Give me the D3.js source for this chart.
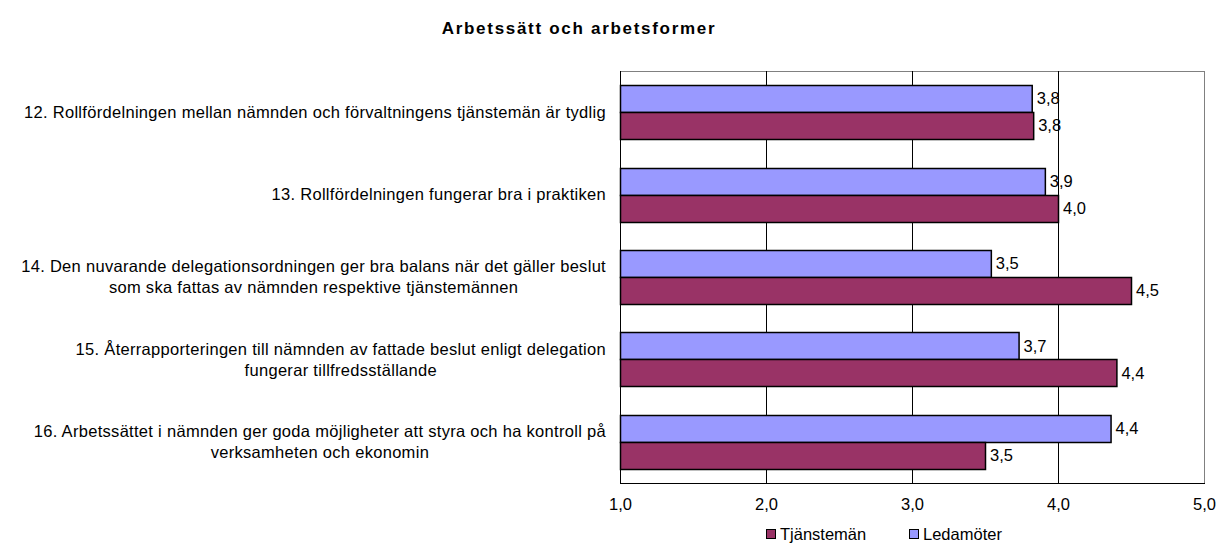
<!DOCTYPE html>
<html>
  <head>
    <meta charset="utf-8">
    <style>
    body {
      margin: 0px;
      background: white;
    }
    text {
      font-family: "Liberation Sans", Arial, sans-serif;
    }
    </style>
  </head>
  <body>
    <div id="elm"></div>

    <script src="https://cdn.jsdelivr.net/npm/d3@7"></script>
    <script>
    'use strict';

    var title = 'Arbetssätt och arbetsformer';

    // each category label may span several lines
    var categories = [
      ['12. Rollfördelningen mellan nämnden och förvaltningens tjänstemän är tydlig'],
      ['13. Rollfördelningen fungerar bra i praktiken'],
      ['14. Den nuvarande delegationsordningen ger bra balans när det gäller beslut',
       'som ska fattas av nämnden respektive tjänstemännen'],
      ['15. Återrapporteringen till nämnden av fattade beslut enligt delegation',
       'fungerar tillfredsställande'],
      ['16. Arbetssättet i nämnden ger goda möjligheter att styra och ha kontroll på',
       'verksamheten och ekonomin']
    ];

    var ledamoter   = [3.82, 3.91, 3.54, 3.73, 4.36];
    var tjansteman  = [3.83, 4.00, 4.50, 4.40, 3.50];

    var seriesNames = ['Ledamöter', 'Tjänstemän'];
    var seriesColors = ['#9999ff', '#993366'];
    var legendOrder = [1, 0];

    var xTicks = [1, 2, 3, 4, 5];

    var W = 1220, H = 544;
    var plot = { left: 620, right: 1204, top: 71, bottom: 483 };
    var fs = 16.5;

    var svg = d3.select('#elm').append('svg')
      .attr('width', W).attr('height', H);

    var x = d3.scaleLinear().domain([1, 5]).range([plot.left, plot.right]);
    var y = d3.scaleBand()
      .domain(d3.range(categories.length))
      .range([plot.top, plot.bottom])
      .paddingInner(0.345)
      .paddingOuter(0.1725);
    var ySub = d3.scaleBand().domain([0, 1]).range([0, y.bandwidth()]);

    var comma = function(v) { return d3.format('.1f')(v).replace('.', ','); };

    // title
    svg.append('text')
      .attr('x', 579).attr('y', 34)
      .attr('text-anchor', 'middle')
      .attr('font-size', 17).attr('font-weight', 'bold')
      .attr('letter-spacing', 1.7)
      .text(title);

    // plot frame (top/right grey)
    svg.append('rect')
      .attr('x', plot.left + 0.5).attr('y', plot.top + 0.5)
      .attr('width', plot.right - plot.left).attr('height', plot.bottom - plot.top)
      .attr('fill', 'none').attr('stroke', '#808080');

    // grid lines
    svg.append('g').selectAll('line')
      .data(xTicks.slice(1, -1))
      .join('line')
      .attr('x1', d => Math.round(x(d)) + 0.5).attr('x2', d => Math.round(x(d)) + 0.5)
      .attr('y1', plot.top).attr('y2', plot.bottom)
      .attr('stroke', '#000');

    // axes
    svg.append('line')
      .attr('x1', plot.left + 0.5).attr('x2', plot.left + 0.5)
      .attr('y1', plot.top).attr('y2', plot.bottom + 1)
      .attr('stroke', '#000');
    svg.append('line')
      .attr('x1', plot.left).attr('x2', plot.right + 1)
      .attr('y1', plot.bottom + 0.5).attr('y2', plot.bottom + 0.5)
      .attr('stroke', '#000');

    var xAxis = svg.append('g')
      .attr('transform', 'translate(0,' + plot.bottom + ')')
      .call(d3.axisBottom(x).tickValues(xTicks).tickFormat(comma).tickSize(0).tickPadding(15));
    xAxis.select('.domain').remove();
    xAxis.selectAll('text').attr('font-size', fs).attr('fill', '#000')
      .attr('font-family', '"Liberation Sans", Arial, sans-serif');

    // bars
    var series = [ledamoter, tjansteman];
    series.forEach(function(vals, si) {
      var g = svg.append('g');
      g.selectAll('rect')
        .data(vals)
        .join('rect')
        .attr('x', plot.left + 0.5)
        .attr('y', (d, i) => Math.round(y(i) + ySub(si)) + 0.5)
        .attr('width', d => x(d) - plot.left)
        .attr('height', Math.round(ySub.bandwidth()))
        .attr('fill', seriesColors[si])
        .attr('stroke', '#000').attr('stroke-width', 1.5);
      g.selectAll('text')
        .data(vals)
        .join('text')
        .attr('x', d => x(d) + 5)
        .attr('y', (d, i) => y(i) + ySub(si) + ySub.bandwidth() / 2)
        .attr('dy', '0.35em')
        .attr('font-size', fs)
        .text(comma);
    });

    // category labels: block right aligned, lines centered within block
    var labelRight = 606, lineH = 21;
    categories.forEach(function(lines, i) {
      var g = svg.append('g');
      var cy = y(i) + y.bandwidth() / 2;
      var texts = g.selectAll('text')
        .data(lines)
        .join('text')
        .attr('font-size', fs)
        .attr('letter-spacing', 0.3)
        .attr('text-anchor', 'middle')
        .attr('y', (d, j) => cy + (j - (lines.length - 1) / 2) * lineH)
        .attr('dy', '0.35em')
        .text(d => d);
      var maxW = d3.max(texts.nodes(), n => n.getComputedTextLength());
      texts.attr('x', labelRight - maxW / 2);
    });

    // legend
    var legendX = [766, 909];
    legendOrder.forEach(function(si, k) {
      svg.append('rect')
        .attr('x', legendX[k] + 0.5).attr('y', 529.5)
        .attr('width', 9).attr('height', 9)
        .attr('fill', seriesColors[si]).attr('stroke', '#000');
      svg.append('text')
        .attr('x', legendX[k] + 14).attr('y', 534)
        .attr('dy', '0.35em')
        .attr('font-size', fs)
        .text(seriesNames[si]);
    });
    </script>
  </body>
</html>
